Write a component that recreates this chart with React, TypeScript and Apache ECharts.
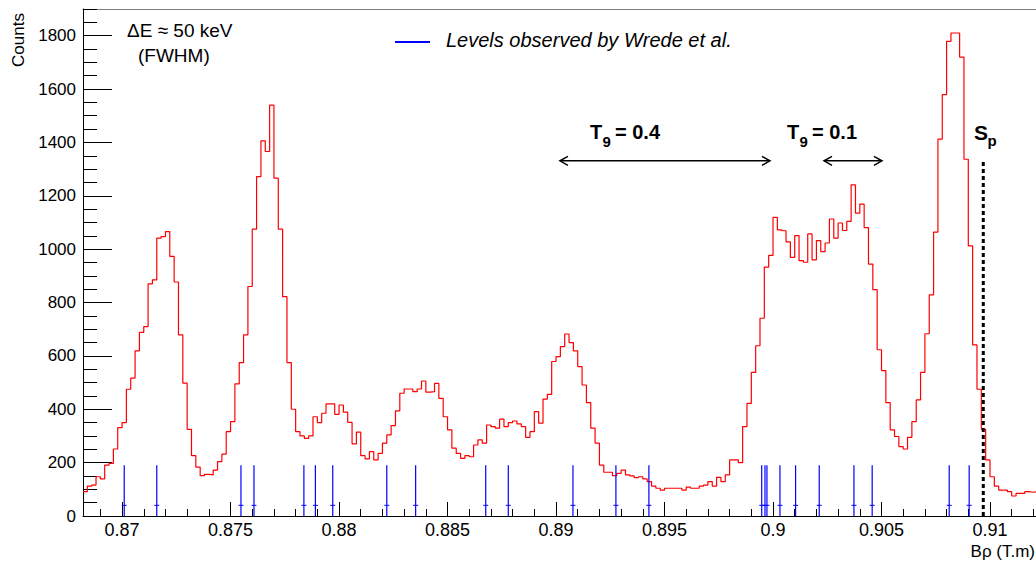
import React, { useEffect, useRef } from "react";
import * as echarts from "echarts";

// Histogram binning (Bρ in T.m)
const BIN_START = 0.8682;
const BIN_WIDTH = 0.0002;

// Counts per bin (220 bins)
const COUNTS = [
  91, 112, 116, 147, 139, 191, 197, 251, 331, 350,
  475, 517, 619, 688, 710, 870, 885, 1041, 1047, 1066,
  973, 877, 679, 498, 325, 226, 183, 151, 156, 154,
  172, 204, 232, 316, 354, 495, 575, 679, 860, 1075,
  1272, 1406, 1366, 1540, 1266, 1075, 822, 575, 400, 316,
  300, 291, 300, 372, 350, 385, 420, 420, 381, 416,
  389, 351, 270, 314, 226, 214, 241, 210, 235, 273,
  304, 339, 394, 460, 476, 476, 466, 476, 506, 464,
  466, 497, 441, 372, 323, 254, 235, 216, 226, 222,
  266, 285, 273, 341, 335, 329, 363, 335, 350, 356,
  345, 335, 295, 316, 391, 348, 438, 456, 579, 597,
  635, 682, 650, 619, 560, 491, 425, 329, 273, 191,
  164, 164, 151, 160, 172, 154, 150, 144, 147, 139,
  129, 112, 104, 97, 104, 104, 104, 104, 97, 108,
  104, 104, 112, 116, 129, 112, 145, 129, 154, 210,
  210, 200, 335, 422, 538, 638, 741, 933, 977, 1119,
  1072, 1069, 1027, 969, 1051, 957, 951, 1057, 960, 1032,
  991, 1023, 1113, 1041, 1098, 1070, 1104, 1241, 1135, 1169,
  1081, 944, 848, 623, 545, 425, 323, 298, 260, 251,
  295, 354, 435, 538, 683, 829, 1064, 1412, 1579, 1779,
  1810, 1810, 1720, 1337, 1012, 641, 475, 325, 210, 147,
  112, 97, 97, 91, 75, 85, 85, 91, 89, 91,
];

// Levels observed by Wrede et al. (Bρ positions)
const LEVELS = [
  0.8701, 0.8716, 0.87548, 0.87608, 0.87838, 0.87891, 0.87971, 0.8822,
  0.88353, 0.88676, 0.8878, 0.89078, 0.89276, 0.89428, 0.89948, 0.89963,
  0.89972, 0.90032, 0.90104, 0.90213, 0.90373, 0.90457, 0.90812, 0.90904,
];
const LEVEL_TOP = 190;
const LEVEL_MARK = 40;

// Temperature windows (double arrows)
const T9_LABELS = ["0.4", "0.1"];
const T9_FROM = [0.89018, 0.90235];
const T9_TO = [0.89986, 0.90502];
const T9_ARROW_Y = 1331;

// Proton separation energy
const SP_X = 0.90969;
const SP_TOP = 1335;

// Axis ticks
const X_MIN = 0.8682;
const X_MAX = 0.91212;
const X_TICKS = [0.87, 0.875, 0.88, 0.885, 0.89, 0.895, 0.9, 0.905, 0.91];
const Y_MIN = 0;
const Y_MAX = 1900;
const Y_TICKS = [0, 200, 400, 600, 800, 1000, 1200, 1400, 1600, 1800];

const FONT = "'Liberation Sans', Arial, Helvetica, sans-serif";

export default function App() {
  const ref = useRef<HTMLDivElement | null>(null);

  useEffect(() => {
    document.body.style.margin = "0";
    if (!ref.current) return;
    const chart = echarts.init(ref.current, null, { renderer: "svg" });

    const xMinor: number[] = [];
    for (let i = 869; i <= 912; i++) xMinor.push(i / 1000);
    const yMinor: number[] = [];
    for (let v = 0; v <= Y_MAX; v += 50) yMinor.push(v);

    const histPoints = COUNTS.map((c, k) => [BIN_START + k * BIN_WIDTH, c]);
    histPoints.push([BIN_START + COUNTS.length * BIN_WIDTH, COUNTS[COUNTS.length - 1]]);

    const arrowData = T9_FROM.map((f, i) => [f, T9_TO[i], T9_ARROW_Y]);

    const option: any = {
      animation: false,
      backgroundColor: "#ffffff",
      grid: {
        left: 83,
        right: 0,
        top: 9,
        bottom: 47,
        show: false,
      },
      xAxis: [
        {
          type: "value",
          min: X_MIN,
          max: X_MAX,
          position: "bottom",
          axisLine: { show: true, onZero: false, lineStyle: { color: "#000", width: 1 } },
          axisTick: {
            show: true,
            inside: true,
            length: 14,
            customValues: X_TICKS,
            lineStyle: { color: "#000", width: 1 },
          },
          axisLabel: {
            customValues: X_TICKS,
            formatter: (v: number) => String(parseFloat(v.toFixed(3))),
            margin: 5,
            fontSize: 18,
            color: "#000",
            fontFamily: FONT,
          },
          splitLine: { show: false },
        },
        {
          type: "value",
          min: X_MIN,
          max: X_MAX,
          position: "bottom",
          axisLine: { show: false },
          axisTick: {
            show: true,
            inside: true,
            length: 7,
            customValues: xMinor,
            lineStyle: { color: "#000", width: 1 },
          },
          axisLabel: { show: false },
          splitLine: { show: false },
        },
        {
          type: "value",
          min: X_MIN,
          max: X_MAX,
          position: "top",
          axisLine: { show: true, onZero: false, lineStyle: { color: "#808080", width: 1 } },
          axisTick: { show: false },
          axisLabel: { show: false },
          splitLine: { show: false },
        },
      ],
      yAxis: [
        {
          type: "value",
          min: Y_MIN,
          max: Y_MAX,
          position: "left",
          axisLine: { show: true, onZero: false, lineStyle: { color: "#000", width: 1 } },
          axisTick: {
            show: true,
            inside: true,
            length: 29,
            customValues: Y_TICKS,
            lineStyle: { color: "#000", width: 1 },
          },
          axisLabel: {
            customValues: Y_TICKS,
            formatter: (v: number) => String(v),
            margin: 7,
            fontSize: 17,
            color: "#000",
            fontFamily: FONT,
          },
          splitLine: { show: false },
        },
        {
          type: "value",
          min: Y_MIN,
          max: Y_MAX,
          position: "left",
          offset: 0,
          axisLine: { show: false },
          axisTick: {
            show: true,
            inside: true,
            length: 14,
            customValues: yMinor,
            lineStyle: { color: "#000", width: 1 },
          },
          axisLabel: { show: false },
          splitLine: { show: false },
        },
      ],
      series: [
        {
          type: "line",
          name: "Spectrum",
          data: histPoints,
          step: "end",
          showSymbol: false,
          symbol: "none",
          silent: true,
          lineStyle: { color: "#ff0000", width: 1.2 },
          itemStyle: { color: "#ff0000" },
          z: 3,
        },
        {
          type: "custom",
          name: "Levels observed by Wrede et al.",
          data: LEVELS.map((v) => [v, 0]),
          silent: true,
          z: 4,
          renderItem: (_p: any, api: any) => {
            const x = api.value(0);
            const top = api.coord([x, LEVEL_TOP]);
            const bot = api.coord([x, 0]);
            const mk = api.coord([x, LEVEL_MARK]);
            return {
              type: "group",
              children: [
                {
                  type: "line",
                  shape: { x1: top[0], y1: top[1], x2: bot[0], y2: bot[1] },
                  style: { stroke: "#0000ff", lineWidth: 1.2 },
                },
                {
                  type: "line",
                  shape: { x1: mk[0] - 2.5, y1: mk[1], x2: mk[0] + 2.5, y2: mk[1] },
                  style: { stroke: "#0000ff", lineWidth: 1 },
                },
              ],
            };
          },
        },
        {
          type: "custom",
          name: "T9 windows",
          data: arrowData,
          silent: true,
          z: 5,
          renderItem: (_p: any, api: any) => {
            const a = api.coord([api.value(0), api.value(2)]);
            const b = api.coord([api.value(1), api.value(2)]);
            const h = 8;
            const w = 4.5;
            const st = { stroke: "#000", lineWidth: 1.5, fill: "none" };
            return {
              type: "group",
              children: [
                { type: "line", shape: { x1: a[0], y1: a[1], x2: b[0], y2: b[1] }, style: st },
                {
                  type: "polyline",
                  shape: { points: [[a[0] + h, a[1] - w], [a[0], a[1]], [a[0] + h, a[1] + w]] },
                  style: st,
                },
                {
                  type: "polyline",
                  shape: { points: [[b[0] - h, b[1] - w], [b[0], b[1]], [b[0] - h, b[1] + w]] },
                  style: st,
                },
              ],
            };
          },
        },
        {
          type: "line",
          name: "Sp",
          data: [
            [SP_X, 0],
            [SP_X, SP_TOP],
          ],
          showSymbol: false,
          symbol: "none",
          silent: true,
          lineStyle: { color: "#000", width: 3, type: [4, 3] },
          z: 6,
        },
      ],
      graphic: [
        {
          type: "text",
          x: 18,
          y: 40,
          rotation: Math.PI / 2,
          style: {
            text: "Counts",
            font: `17px ${FONT}`,
            fill: "#000",
            textAlign: "center",
            textVerticalAlign: "middle",
          },
        },
        {
          type: "text",
          x: 1035,
          y: 551,
          style: {
            text: "Bρ (T.m)",
            font: `17px ${FONT}`,
            fill: "#000",
            textAlign: "right",
            textVerticalAlign: "middle",
          },
        },
        {
          type: "text",
          x: 127,
          y: 30,
          style: {
            text: "ΔE ≈ 50 keV",
            font: `19px ${FONT}`,
            fill: "#000",
            textAlign: "left",
            textVerticalAlign: "middle",
          },
        },
        {
          type: "text",
          x: 138,
          y: 55,
          style: {
            text: "(FWHM)",
            font: `19px ${FONT}`,
            fill: "#000",
            textAlign: "left",
            textVerticalAlign: "middle",
          },
        },
        {
          type: "line",
          shape: { x1: 395, y1: 42, x2: 430, y2: 42 },
          style: { stroke: "#0000ff", lineWidth: 2 },
        },
        {
          type: "text",
          x: 446,
          y: 40,
          style: {
            text: "Levels observed by Wrede et al.",
            font: `italic 20px ${FONT}`,
            fill: "#000",
            textAlign: "left",
            textVerticalAlign: "middle",
          },
        },
        ...T9_LABELS.flatMap((lab, i) => {
          const x0 = i === 0 ? 590 : 787;
          return [
            {
              type: "text",
              x: x0,
              y: 132,
              style: { text: "T", font: `bold 20px ${FONT}`, fill: "#000", textAlign: "left", textVerticalAlign: "middle" },
            },
            {
              type: "text",
              x: x0 + 12.5,
              y: 141,
              style: { text: "9", font: `bold 15px ${FONT}`, fill: "#000", textAlign: "left", textVerticalAlign: "middle" },
            },
            {
              type: "text",
              x: x0 + 25,
              y: 132,
              style: { text: "= " + lab, font: `bold 20px ${FONT}`, fill: "#000", textAlign: "left", textVerticalAlign: "middle" },
            },
          ];
        }),
        {
          type: "text",
          x: 974,
          y: 132,
          style: { text: "S", font: `bold 21px ${FONT}`, fill: "#000", textAlign: "left", textVerticalAlign: "middle" },
        },
        {
          type: "text",
          x: 987.5,
          y: 140,
          style: { text: "p", font: `bold 15px ${FONT}`, fill: "#000", textAlign: "left", textVerticalAlign: "middle" },
        },
      ],
    };

    chart.setOption(option);
    return () => {
      chart.dispose();
    };
  }, []);

  return <div ref={ref} style={{ width: 1036, height: 563 }} />;
}
